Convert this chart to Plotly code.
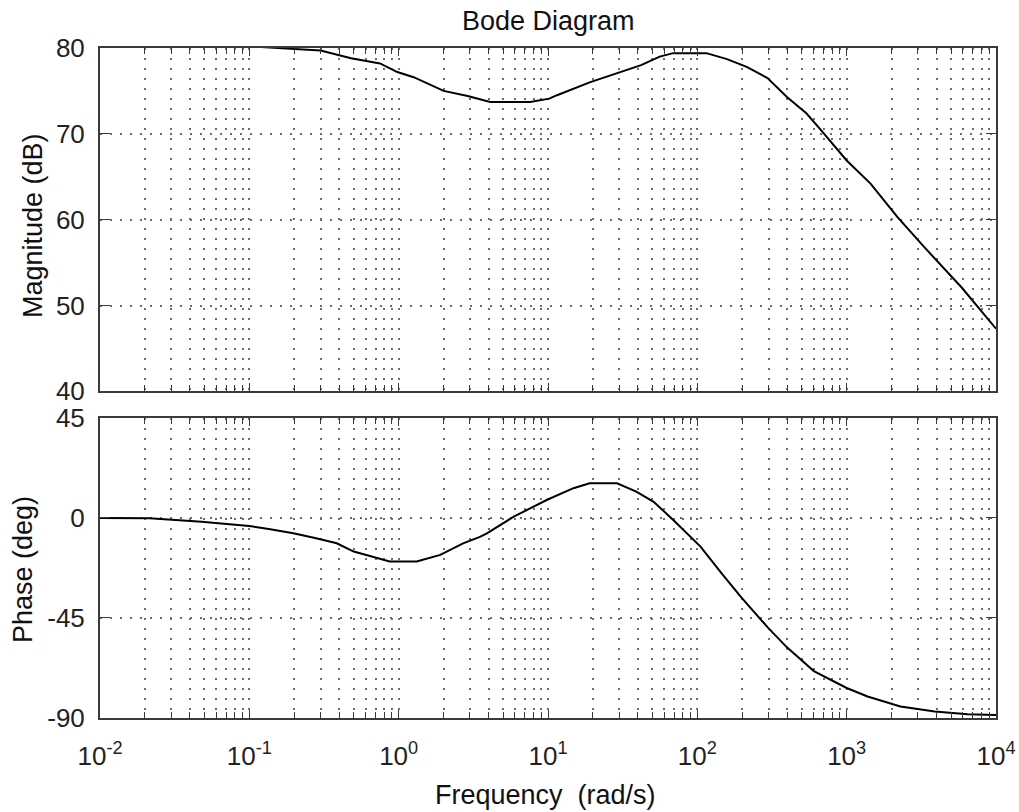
import plotly.graph_objects as go

# ---- data ----
freq_mag = [0.01, 0.05, 0.1, 0.158, 0.3, 0.48, 0.75, 0.98, 1.26, 2.0, 2.9, 4.1,
            7.6, 10.2, 11.5, 19, 29, 42, 56, 69, 115, 158, 214, 295, 398, 537,
            660, 1000, 1445, 2190, 3310, 5890, 10000]
mag_db = [80.4, 80.4, 80.2, 80.0, 79.7, 78.8, 78.2, 77.2, 76.6, 75.0, 74.4, 73.7,
          73.7, 74.1, 74.5, 76.0, 77.05, 78.0, 79.0, 79.4, 79.4, 78.7, 77.8, 76.5, 74.3, 72.4,
          70.6, 66.9, 64.2, 60.3, 56.8, 52.1, 47.3]

freq_phase = [0.01, 0.0214, 0.0479, 0.1, 0.138, 0.197, 0.28, 0.385, 0.5, 0.68, 0.87,
              1.32, 1.9, 2.7, 3.5, 3.9, 5.9, 9.8, 14.8, 19, 29, 39, 51, 69, 105, 145,
              195, 295, 398, 603, 1000, 1380, 2290, 3890, 6460, 10000]
phase_deg = [0.0, -0.1, -1.7, -3.6, -5.1, -6.9, -9.1, -11.4, -15.1, -17.7, -19.6,
             -19.6, -16.6, -11.4, -8.5, -6.9, 0.6, 8.1, 13.4, 15.6, 15.6, 11.9, 7.3, -0.9, -12.9, -24.8,
             -35.4, -49.1, -58.2, -68.9, -76.5, -80.3, -84.8, -87.1, -88.3, -88.6]

x_tickvals = [0.01, 0.1, 1, 10, 100, 1000, 10000]
x_ticktext = ["10<sup>-2</sup>", "10<sup>-1</sup>", "10<sup>0</sup>", "10<sup>1</sup>",
              "10<sup>2</sup>", "10<sup>3</sup>", "10<sup>4</sup>"]
mag_ticks = [40, 50, 60, 70, 80]
mag_ticktext = ["40", "50", "60", "70", "80"]
phase_ticks = [-90, -45, 0, 45]
phase_ticktext = ["-90", "-45", "0", "45"]

FONT = "Liberation Sans, Arial, Helvetica, sans-serif"
FRAME = "#3a3a3a"
GRID = "#6e6e6e"
DASH = "2px,8px"

fig = go.Figure()
fig.add_trace(go.Scatter(x=freq_mag, y=mag_db, xaxis="x", yaxis="y", mode="lines",
                         line=dict(color="black", width=2), showlegend=False))
fig.add_trace(go.Scatter(x=freq_phase, y=phase_deg, xaxis="x2", yaxis="y2", mode="lines",
                         line=dict(color="black", width=2), showlegend=False))

xcommon = dict(type="log", range=[-2, 4], tickmode="array", tickvals=x_tickvals,
               ticktext=x_ticktext, ticks="inside", ticklen=8, tickwidth=1, tickcolor=FRAME,
               showline=True, linecolor=FRAME, linewidth=2, mirror="allticks",
               showgrid=True, gridcolor=GRID, gridwidth=2, griddash=DASH, zeroline=False,
               automargin=False,
               minor=dict(dtick="D1", ticks="inside", ticklen=6, tickwidth=1, tickcolor=FRAME,
                          showgrid=True, gridcolor=GRID, gridwidth=2, griddash=DASH),
               tickfont=dict(family=FONT, size=26, color="#222"))
ycommon = dict(ticks="inside", ticklen=10, tickwidth=1, tickcolor=FRAME, showline=True,
               linecolor=FRAME, linewidth=2, mirror="allticks", showgrid=True, gridcolor=GRID,
               gridwidth=2, griddash=DASH, zeroline=False, automargin=False, tickmode="array",
               tickfont=dict(family=FONT, size=26, color="#222"))

fig.update_layout(
    width=1019, height=812,
    margin=dict(l=100, r=23, t=48, b=94),
    paper_bgcolor="white", plot_bgcolor="white",
    font=dict(family=FONT, color="#111"),
    hovermode=False,
    xaxis=dict(xcommon, domain=[0, 1], anchor="y", showticklabels=False),
    xaxis2=dict(xcommon, domain=[0, 1], anchor="y2", matches="x", ticklabelstandoff=14),
    yaxis=dict(ycommon, domain=[0.4875, 1], range=[40, 80], tickvals=mag_ticks,
               ticktext=mag_ticktext, ticklabelstandoff=8),
    yaxis2=dict(ycommon, domain=[0, 0.4478], range=[-90, 45], tickvals=phase_ticks,
                ticktext=phase_ticktext, ticklabelstandoff=8),
    annotations=[
        dict(text="Bode Diagram", xref="paper", yref="paper", x=0.5, y=1, yshift=27,
             xanchor="center", yanchor="middle", showarrow=False,
             font=dict(family=FONT, size=27, color="#111")),
        dict(text="Frequency  (rad/s)", xref="paper", yref="paper", x=0.5, y=0, yshift=-77,
             xshift=-3, xanchor="center", yanchor="middle", showarrow=False,
             font=dict(family=FONT, size=27, color="#111")),
        dict(text="Magnitude (dB)", xref="paper", yref="paper", x=0, y=(718 - 226) / 670,
             xshift=-67, xanchor="center", yanchor="middle", textangle=-90, showarrow=False,
             font=dict(family=FONT, size=27, color="#111")),
        dict(text="Phase (deg)", xref="paper", yref="paper", x=0, y=(718 - 570) / 670,
             xshift=-77, xanchor="center", yanchor="middle", textangle=-90, showarrow=False,
             font=dict(family=FONT, size=27, color="#111")),
    ],
)

# remove the default page margin so the 1019x812 figure fills the window exactly
fig.write_html("out.html",
               config={"displayModeBar": False},
               post_script="document.body.style.margin='0';"
                           "document.documentElement.style.overflow='hidden';")
